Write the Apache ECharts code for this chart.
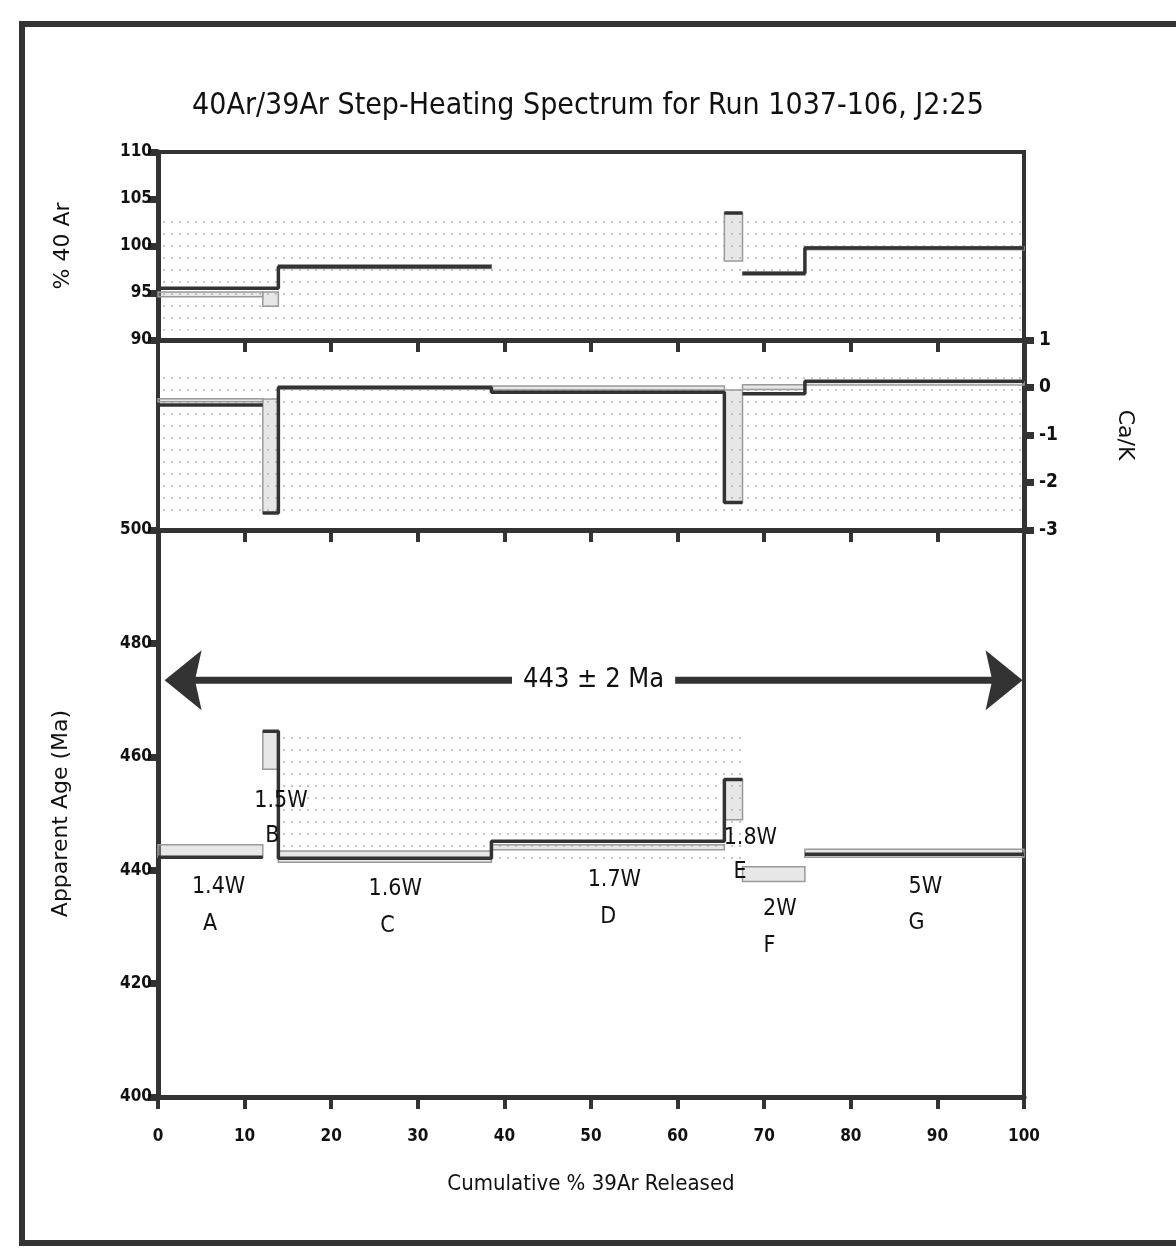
<!DOCTYPE html>
<html><head><meta charset="utf-8">
<script src="https://cdn.jsdelivr.net/npm/echarts@6/dist/echarts.min.js"></script>
<style>html,body{margin:0;padding:0;background:#fff;}#c{width:1176px;height:1258px;}</style>
</head><body><div id="c"></div>
<script>
// ---- data ----
const stepBounds = [0, 12.1, 13.9, 38.5, 65.4, 67.5, 74.7, 100];
const stepNames  = ['A', 'B', 'C', 'D', 'E', 'F', 'G'];
const stepPower  = ['1.4W', '1.5W', '1.6W', '1.7W', '1.8W', '2W', '5W'];

// % 40Ar (radiogenic) panel
const arLine = [95.5, 95.5, 97.8, null, 103.5, 97.1, 99.8];
const arLink = [true, true, false, false, false, true, false];
const arLo   = [94.6, 93.6, 97.6, null, 98.4, 96.9, 99.6];
const arHi   = [95.1, 95.1, 98.0, null, 103.5, 97.2, 99.9];

// Ca/K panel
const ckLine = [-0.37, -2.64, 0.0, -0.10, -2.42, -0.13, 0.13];
const ckLink = [false, true, true, true, false, true, false];
const ckLo   = [-0.30, -2.64, -0.02, -0.05, -2.42, -0.04, 0.06];
const ckHi   = [-0.24, -0.24, 0.02, 0.03, -0.05, 0.06, 0.11];

// Apparent age panel (Ma)
const ageLine = [442.3, 464.5, 442.1, 445.1, 456.0, null, 442.8];
const ageLink = [false, true, true, true, false, false, false];
const ageLo   = [442.3, 457.8, 441.4, 443.6, 448.9, 438.0, 442.3];
const ageHi   = [444.5, 464.5, 443.4, 444.5, 456.0, 440.6, 443.7];

// plateau age annotation
const plateauAge = 443, plateauErr = 2;
const plateauArrow = {from: 2.9, to: 97.7, at: 473.5, textAt: 50.3};

// shaded (stippled) regions [x0, x1, y0, y1]
const arShade  = [0, 100, 91.0, 103.0];
const ckShade  = [0, 100, -2.8, 0.3];
const ageShade = [13.9, 67.5, 440.5, 464.5];

// label anchor points (x %, age) for power / step letters
const powerAt  = [[7.0,437.0],[14.2,452.2],[27.4,436.7],[52.7,438.3],[68.4,445.7],[71.8,433.1],[88.6,437.0]];
const letterAt = [[6.0,430.5],[13.2,446.0],[26.5,430.2],[52.0,431.7],[67.2,439.7],[70.6,426.6],[87.6,430.7]];

// ---- chart ----
const FONT = "'Liberation Sans Narrow','DejaVu Sans Condensed','Liberation Sans',sans-serif";
const FONT2 = "'DejaVu Sans','Liberation Sans',sans-serif";
const DARK = '#333';
const INK = '#111';

const dot = document.createElement('canvas');
dot.width = 8; dot.height = 12;
const dctx = dot.getContext('2d');
dctx.fillStyle = '#c4c4c4';
dctx.fillRect(3, 5, 2, 2);
const dotPattern = {image: dot, repeat: 'repeat'};

function segments(vals, links) {
  const segs = []; let cur = null;
  vals.forEach((v, i) => {
    if (v == null) { cur = null; return; }
    if (!cur) { cur = []; segs.push(cur); }
    cur.push([stepBounds[i], v], [stepBounds[i + 1], v]);
    if (!links[i]) cur = null;
  });
  return segs;
}

function boxSeries(ax, lo, hi) {
  const data = [];
  lo.forEach((l, i) => { if (l != null) data.push([stepBounds[i], stepBounds[i + 1], l, hi[i]]); });
  return {
    type: 'custom', xAxisIndex: ax, yAxisIndex: ax, z: 3, silent: true,
    encode: {x: [0, 1], y: [2, 3]},
    data,
    renderItem(params, api) {
      const a = api.coord([api.value(0), api.value(3)]);
      const b = api.coord([api.value(1), api.value(2)]);
      let y = a[1], h = b[1] - a[1];
      if (h < 3) { y -= (3 - h) / 2; h = 3; }
      return {type: 'rect', shape: {x: a[0], y: y, width: b[0] - a[0], height: h},
        style: {fill: 'rgba(185,185,185,0.35)', stroke: '#9a9a9a', lineWidth: 1.5}};
    }
  };
}

function lineSeries(ax, vals, links) {
  return segments(vals, links).map(seg => ({
    type: 'line', xAxisIndex: ax, yAxisIndex: ax, data: seg, symbol: 'none', z: 5,
    silent: true, animation: false,
    lineStyle: {color: DARK, width: 3.5}
  }));
}

function shadeSeries(ax, s) {
  return {
    type: 'line', xAxisIndex: ax, yAxisIndex: ax, data: [], silent: true, z: 1,
    markArea: {silent: true, itemStyle: {color: dotPattern},
      data: [[{coord: [s[0], s[3]]}, {coord: [s[1], s[2]]}]]}
  };
}

function xAx(gi, labels) {
  return {
    type: 'value', gridIndex: gi, min: 0, max: 100, interval: 10, position: 'bottom',
    axisLine: {show: true, onZero: false, lineStyle: {color: DARK, width: 5}},
    axisTick: {show: true, length: 12, lineStyle: {color: DARK, width: 4}},
    axisLabel: {show: labels, fontFamily: FONT, fontSize: 17, fontWeight: 'bold', color: INK, margin: 31},
    splitLine: {show: false},
    name: labels ? 'Cumulative % 39Ar Released' : '',
    nameLocation: 'middle', nameGap: 76,
    nameTextStyle: {fontFamily: FONT, fontSize: 22, color: INK}
  };
}

function yAx(gi, min, max, interval, pos, name, gap, rot, extraLabel) {
  return {
    type: 'value', gridIndex: gi, min, max, interval, position: pos,
    axisLine: {show: true, onZero: false, lineStyle: {color: DARK, width: 5}},
    axisTick: {show: true, length: 10, lineStyle: {color: DARK, width: 7}},
    axisLabel: Object.assign({fontFamily: FONT, fontSize: 17, fontWeight: 'bold', color: INK, margin: 6}, extraLabel || {}),
    splitLine: {show: false},
    name, nameLocation: 'middle', nameGap: gap, nameRotate: rot,
    nameTextStyle: {fontFamily: FONT2, fontSize: 22, color: INK}
  };
}

const labelData = [];
stepPower.forEach((t, i) => labelData.push([powerAt[i][0], powerAt[i][1], t]));
stepNames.forEach((t, i) => labelData.push([letterAt[i][0], letterAt[i][1], t]));

const headL = 'path://M0,50 L100,0 L82,50 L100,100 Z';
const headR = 'path://M100,50 L0,0 L18,50 L0,100 Z';

const option = {
  animation: false,
  backgroundColor: '#fff',
  title: {
    text: '40Ar/39Ar Step-Heating Spectrum for Run 1037-106, J2:25',
    left: 'center', top: 86,
    textStyle: {fontFamily: FONT, fontSize: 30, fontWeight: 'normal', color: INK}
  },
  graphic: [{
    type: 'rect', shape: {x: 22, y: 24, width: 1200, height: 1219},
    style: {fill: 'none', stroke: DARK, lineWidth: 6}, z: 0, silent: true
  }],
  grid: [
    {left: 158, top: 152, width: 866, height: 188, show: true, borderColor: DARK, borderWidth: 4},
    {left: 158, top: 340, width: 866, height: 190, show: true, borderColor: DARK, borderWidth: 4},
    {left: 158, top: 530, width: 866, height: 567, show: true, borderColor: DARK, borderWidth: 4}
  ],
  xAxis: [xAx(0, false), xAx(1, false), xAx(2, true)],
  yAxis: [
    yAx(0, 90, 110, 5, 'left', '% 40 Ar', 84, 90),
    yAx(1, -3, 1, 1, 'right', 'Ca/K', 90, -90, {fontSize: 19, margin: 15}),
    yAx(2, 400, 500, 20, 'left', 'Apparent Age (Ma)', 86, 90)
  ],
  series: [
    shadeSeries(0, arShade), shadeSeries(1, ckShade), shadeSeries(2, ageShade),
    boxSeries(0, arLo, arHi), boxSeries(1, ckLo, ckHi), boxSeries(2, ageLo, ageHi),
    ...lineSeries(0, arLine, arLink),
    ...lineSeries(1, ckLine, ckLink),
    ...lineSeries(2, ageLine, ageLink),
    {
      type: 'line', xAxisIndex: 2, yAxisIndex: 2, symbol: 'none', z: 6, silent: true,
      data: [[plateauArrow.from, plateauArrow.at], [plateauArrow.to, plateauArrow.at]],
      lineStyle: {color: DARK, width: 7}
    },
    {
      type: 'scatter', xAxisIndex: 2, yAxisIndex: 2, z: 7, silent: true,
      symbolSize: [37, 60], itemStyle: {color: DARK, opacity: 1},
      data: [
        {value: [plateauArrow.from, plateauArrow.at], symbol: headL},
        {value: [plateauArrow.to, plateauArrow.at], symbol: headR}
      ]
    },
    {
      type: 'scatter', xAxisIndex: 2, yAxisIndex: 2, z: 10, silent: true,
      symbol: 'circle', symbolSize: 1, itemStyle: {color: '#fff', opacity: 1},
      data: [[plateauArrow.textAt, plateauArrow.at]],
      label: {show: true, position: 'inside', formatter: () => plateauAge + ' \u00b1 ' + plateauErr + ' Ma',
        fontFamily: FONT, fontSize: 27, color: INK, backgroundColor: '#fff', padding: [4, 11]}
    },
    {
      type: 'scatter', xAxisIndex: 2, yAxisIndex: 2, z: 10, silent: true,
      symbol: 'circle', symbolSize: 1, itemStyle: {color: '#fff', opacity: 1},
      data: labelData,
      label: {show: true, position: 'inside', formatter: p => p.data[2],
        fontFamily: FONT, fontSize: 23, color: INK}
    }
  ]
};
const chart = echarts.init(document.getElementById('c'));
chart.setOption(option);
</script>
</body></html>
